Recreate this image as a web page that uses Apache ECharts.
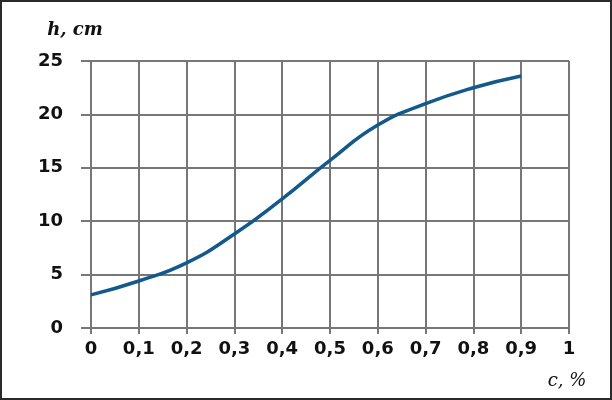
<!DOCTYPE html>
<html>
<head>
<meta charset="utf-8">
<script src="https://cdn.jsdelivr.net/npm/echarts@6/dist/echarts.min.js"></script>
<style>
    html, body { margin: 0; padding: 0; background: #fff; }
    #chart { width: 612px; height: 400px; box-sizing: border-box; border: 2px solid #2a2a2a; }
</style>
</head>
<body>
<div id="chart"></div>
<script>
    // concentration c, %
    var cValues = [0, 0.1, 0.2, 0.3, 0.4, 0.5, 0.6, 0.7, 0.8, 0.9];
    // height h, cm
    var hValues = [3.1, 4.4, 6.1, 8.8, 12.1, 15.7, 19.0, 21.0, 22.5, 23.6];

    var points = cValues.map(function (c, i) {
        return [c, hValues[i]];
    });

    var gridColor = '#777';
    var labelFont = {
        fontFamily: 'DejaVu Sans',
        fontWeight: 'bold',
        fontSize: 18,
        color: '#111'
    };

    var chart = echarts.init(document.getElementById('chart'));

    chart.setOption({
        backgroundColor: '#fff',
        animation: false,
        grid: {
            left: 89,
            right: 41,
            top: 59,
            bottom: 70
        },
        xAxis: {
            type: 'value',
            min: 0,
            max: 1,
            interval: 0.1,
            name: 'c, %',
            nameLocation: 'end',
            nameGap: -2,
            nameTextStyle: {
                fontFamily: 'DejaVu Serif',
                fontStyle: 'italic',
                fontSize: 18,
                color: '#111',
                align: 'center',
                verticalAlign: 'top',
                padding: [44, 0, 0, 0]
            },
            axisLine: {
                lineStyle: { color: gridColor, width: 2 }
            },
            axisTick: {
                length: 6,
                lineStyle: { color: gridColor, width: 2 }
            },
            splitLine: {
                lineStyle: { color: gridColor, width: 2 }
            },
            axisLabel: Object.assign({
                margin: 12,
                formatter: function (v) {
                    return String(Math.round(v * 10) / 10).replace('.', ',');
                }
            }, labelFont)
        },
        yAxis: {
            type: 'value',
            min: 0,
            max: 25,
            interval: 5,
            name: 'h, cm',
            nameLocation: 'end',
            nameGap: 22,
            nameTextStyle: {
                fontFamily: 'DejaVu Serif',
                fontStyle: 'italic',
                fontWeight: 'bold',
                fontSize: 18,
                color: '#111',
                align: 'center',
                padding: [0, 32, 0, 0]
            },
            axisLine: {
                show: true,
                lineStyle: { color: gridColor, width: 2 }
            },
            axisTick: {
                show: true,
                length: 10,
                lineStyle: { color: gridColor, width: 2 }
            },
            splitLine: {
                lineStyle: { color: gridColor, width: 2 }
            },
            axisLabel: Object.assign({
                margin: 28
            }, labelFont)
        },
        series: [
            {
                type: 'line',
                smooth: 0.5,
                showSymbol: false,
                lineStyle: {
                    color: '#13598c',
                    width: 3.5
                },
                data: points
            }
        ]
    });
</script>
</body>
</html>
